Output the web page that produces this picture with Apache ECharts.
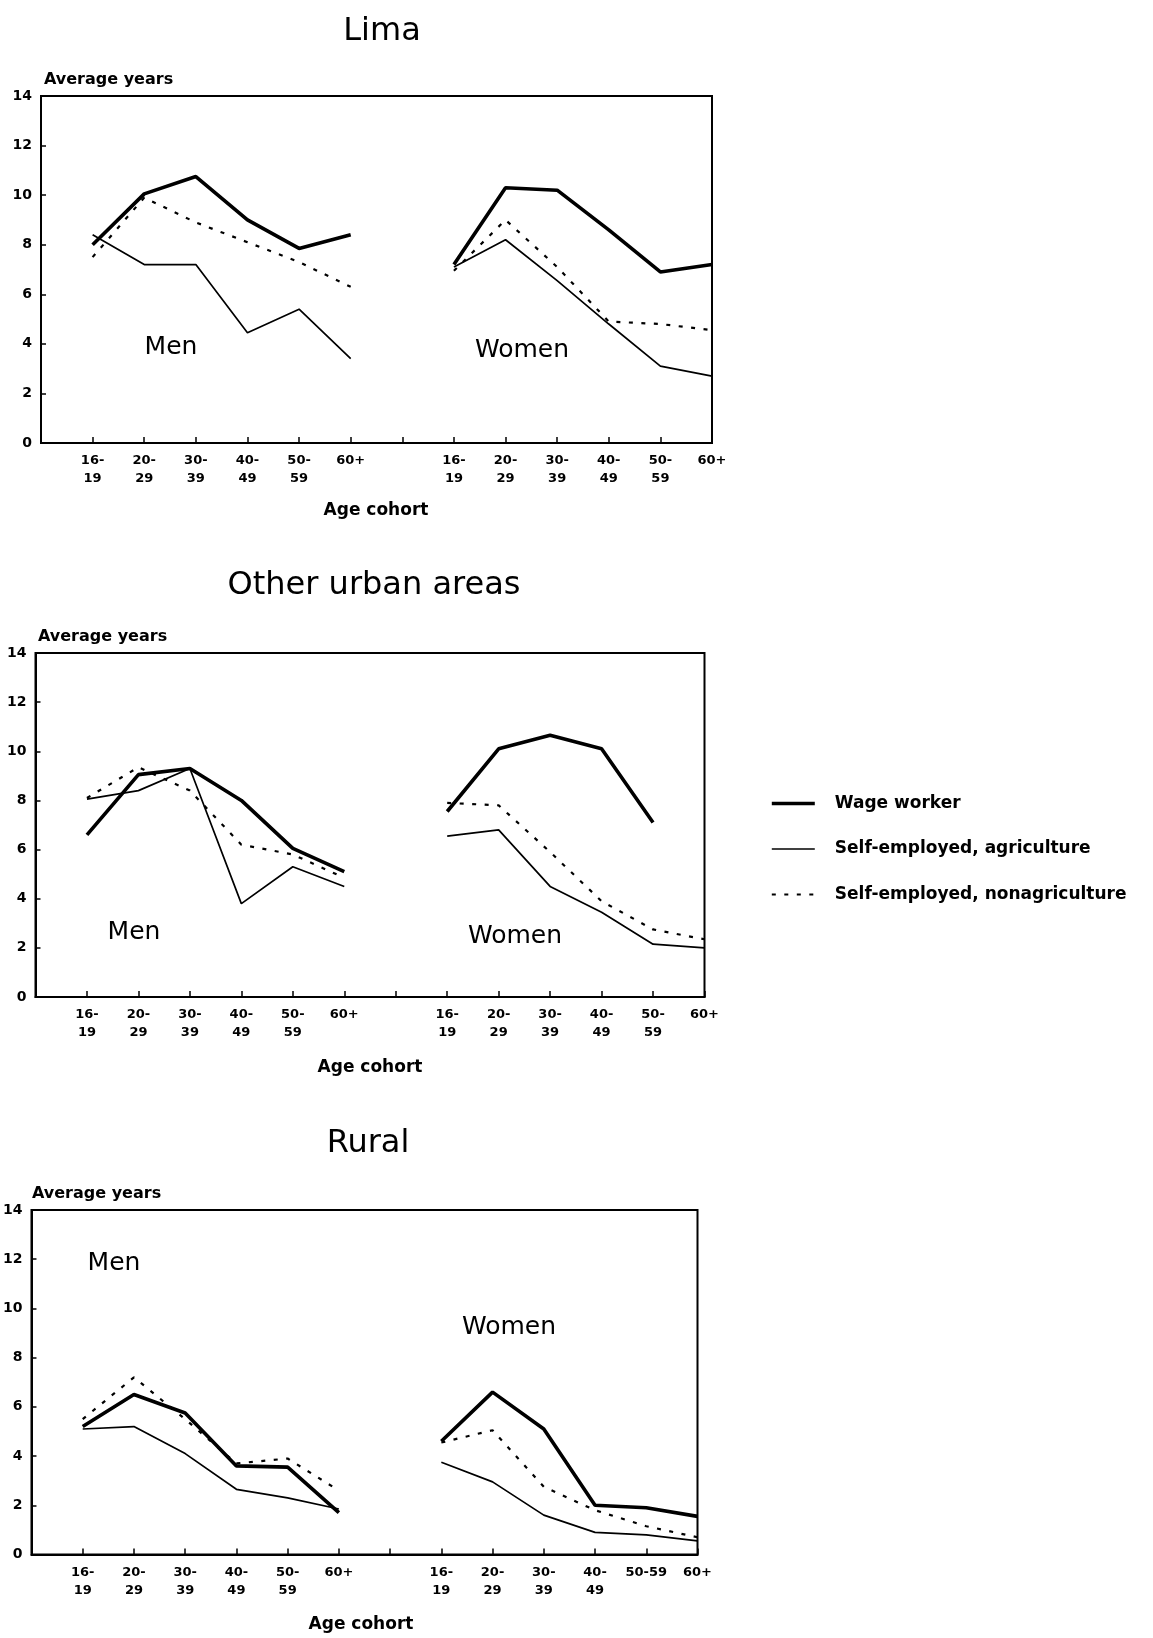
<!DOCTYPE html>
<html>
<head>
<meta charset="utf-8">
<title>Average years of schooling by age cohort</title>
<script src="https://cdn.jsdelivr.net/npm/echarts@6/dist/echarts.min.js"></script>
<style>
  html, body { margin: 0; padding: 0; background: #fff; }
  #chart { width: 1153px; height: 1638px; }
</style>
</head>
<body>
<div id="chart"></div>
<script>
// Age cohort tick labels (men on the left half, women on the right half)
const menAgeLabels = ['16-\n19', '20-\n29', '30-\n39', '40-\n49', '50-\n59', '60+'];
const womenAgeLabels = ['16-\n19', '20-\n29', '30-\n39', '40-\n49', '50-\n59', '60+'];
const ruralWomenAgeLabels = ['16-\n19', '20-\n29', '30-\n39', '40-\n49', '50-59', '60+'];

const seriesNames = ['Wage worker', 'Self-employed, agriculture', 'Self-employed, nonagriculture'];
const panelTitles = ['Lima', 'Other urban areas', 'Rural'];

// Average years of schooling, Lima
const limaMenWage = [8.0, 10.05, 10.75, 9.0, 7.85, 8.4];
const limaMenAgri = [8.4, 7.2, 7.2, 4.45, 5.4, 3.4];
const limaMenNonagri = [7.5, 9.9, 8.9, 8.1, 7.3, 6.3];
const limaWomenWage = [7.2, 10.3, 10.2, 8.6, 6.9, 7.2];
const limaWomenAgri = [7.1, 8.2, 6.55, 4.8, 3.1, 2.7];
const limaWomenNonagri = [6.95, 9.0, 7.1, 4.9, 4.8, 4.55];

// Other urban areas
const urbanMenWage = [6.6, 9.05, 9.3, 8.0, 6.05, 5.1];
const urbanMenAgri = [8.05, 8.4, 9.3, 3.8, 5.3, 4.5];
const urbanMenNonagri = [8.1, 9.35, 8.4, 6.2, 5.8, 4.85];
const urbanWomenWage = [7.55, 10.1, 10.65, 10.1, 7.1, null];
const urbanWomenAgri = [6.55, 6.8, 4.5, 3.45, 2.15, 2.0];
const urbanWomenNonagri = [7.9, 7.8, 5.9, 3.9, 2.75, 2.35];

// Rural
const ruralMenWage = [5.2, 6.5, 5.75, 3.6, 3.55, 1.7];
const ruralMenAgri = [5.1, 5.2, 4.1, 2.65, 2.3, 1.85];
const ruralMenNonagri = [5.5, 7.2, 5.5, 3.7, 3.9, 2.6];
const ruralWomenWage = [4.6, 6.6, 5.1, 2.0, 1.9, 1.55];
const ruralWomenAgri = [3.75, 2.95, 1.6, 0.9, 0.8, 0.55];
const ruralWomenNonagri = [4.55, 5.05, 2.75, 1.8, 1.15, 0.7];

const panels = [
  { men: [limaMenWage, limaMenAgri, limaMenNonagri],
    women: [limaWomenWage, limaWomenAgri, limaWomenNonagri],
    womenLabels: womenAgeLabels },
  { men: [urbanMenWage, urbanMenAgri, urbanMenNonagri],
    women: [urbanWomenWage, urbanWomenAgri, urbanWomenNonagri],
    womenLabels: womenAgeLabels },
  { men: [ruralMenWage, ruralMenAgri, ruralMenNonagri],
    women: [ruralWomenWage, ruralWomenAgri, ruralWomenNonagri],
    womenLabels: ruralWomenAgeLabels }
];

// Layout of each panel on the page
const grids = [
  { left: 41, top: 96, width: 671, height: 347 },
  { left: 35.5, top: 653, width: 669, height: 344 },
  { left: 28.5, top: 1210, width: 669, height: 344.5 }
];
const titlePos = [[382, 32], [374, 586], [368, 1144]];
const yNamePos = [[44, 80], [38, 637], [32, 1194]];
const cohortPos = [[376, 511], [370, 1068], [361, 1625]];
const menPos = [[171, 347], [134, 932], [114, 1263]];
const womenPos = [[522, 350], [515, 936], [509, 1327]];

const FONT = '"DejaVu Sans", "Liberation Sans", Arial, sans-serif';
const lineStyles = [
  { color: '#000', width: 3.6, type: 'solid' },
  { color: '#000', width: 1.7, type: 'solid' },
  { color: '#000', width: 2.2, type: [4, 8.5] }
];

// Men occupy cohort slots 1..6, women slots 8..13 (slot 7 is the gap)
function toPoints(values, offset) {
  return values.map((v, i) => [i + offset, v]);
}

const option = {
  backgroundColor: '#fff',
  animation: false,
  grid: grids.map(g => Object.assign({ show: true, borderColor: '#000', borderWidth: 2, backgroundColor: 'transparent' }, g)),
  xAxis: panels.map((p, k) => ({
    type: 'value', gridIndex: k, min: 0, max: 13, interval: 1,
    axisLine: { show: true, lineStyle: { color: '#000', width: 2 } },
    axisTick: { show: true, inside: true, length: 6, lineStyle: { color: '#000', width: 1.5 } },
    splitLine: { show: false },
    axisLabel: {
      show: true, showMinLabel: true, showMaxLabel: true, margin: 9,
      color: '#000', fontFamily: FONT, fontWeight: 'bold', fontSize: 13, lineHeight: 18,
      formatter: function (v) {
        if (v >= 1 && v <= 6) return menAgeLabels[v - 1];
        if (v >= 8 && v <= 13) return p.womenLabels[v - 8];
        return '';
      }
    }
  })),
  yAxis: panels.map((p, k) => ({
    type: 'value', gridIndex: k, min: 0, max: 14, interval: 2,
    axisLine: { show: true, lineStyle: { color: '#000', width: 2 } },
    axisTick: { show: true, inside: true, length: 5, lineStyle: { color: '#000', width: 1.5 } },
    splitLine: { show: false },
    axisLabel: { margin: 9, color: '#000', fontFamily: FONT, fontWeight: 'bold', fontSize: 14 }
  })),
  legend: {
    orient: 'vertical', left: 770, top: 795, padding: 0,
    itemWidth: 43, itemHeight: 16, itemGap: 28.5,
    selectedMode: false,
    itemStyle: { opacity: 0 },
    data: seriesNames.map((name, s) => ({
      name: name,
      lineStyle: { width: lineStyles[s].width, type: lineStyles[s].type, color: '#000' }
    })),
    textStyle: { color: '#000', fontFamily: FONT, fontWeight: 'bold', fontSize: 17, padding: [0, 0, 0, 15] }
  },
  series: [],
  graphic: []
};

panels.forEach((p, k) => {
  [['men', 1], ['women', 8]].forEach(([sex, offset]) => {
    p[sex].forEach((vals, s) => {
      option.series.push({
        type: 'line', name: seriesNames[s], xAxisIndex: k, yAxisIndex: k,
        data: toPoints(vals, offset), symbol: 'none', connectNulls: false,
        lineStyle: lineStyles[s], itemStyle: { color: '#000' },
        z: 3 - s
      });
    });
  });

  const g = option.graphic;
  g.push({ type: 'text', x: titlePos[k][0], y: titlePos[k][1],
    style: { text: panelTitles[k], font: '32px ' + FONT, fill: '#000', textAlign: 'center', textVerticalAlign: 'middle' } });
  g.push({ type: 'text', x: yNamePos[k][0], y: yNamePos[k][1],
    style: { text: 'Average years', font: 'bold 16px ' + FONT, fill: '#000', textAlign: 'left', textVerticalAlign: 'middle' } });
  g.push({ type: 'text', x: cohortPos[k][0], y: cohortPos[k][1],
    style: { text: 'Age cohort', font: 'bold 17px ' + FONT, fill: '#000', textAlign: 'center', textVerticalAlign: 'middle' } });
  g.push({ type: 'text', x: menPos[k][0], y: menPos[k][1],
    style: { text: 'Men', font: '25px ' + FONT, fill: '#000', textAlign: 'center', textVerticalAlign: 'middle' } });
  g.push({ type: 'text', x: womenPos[k][0], y: womenPos[k][1],
    style: { text: 'Women', font: '25px ' + FONT, fill: '#000', textAlign: 'center', textVerticalAlign: 'middle' } });
});

const chart = echarts.init(document.getElementById('chart'), null, { renderer: 'canvas' });
chart.setOption(option);
</script>
</body>
</html>
